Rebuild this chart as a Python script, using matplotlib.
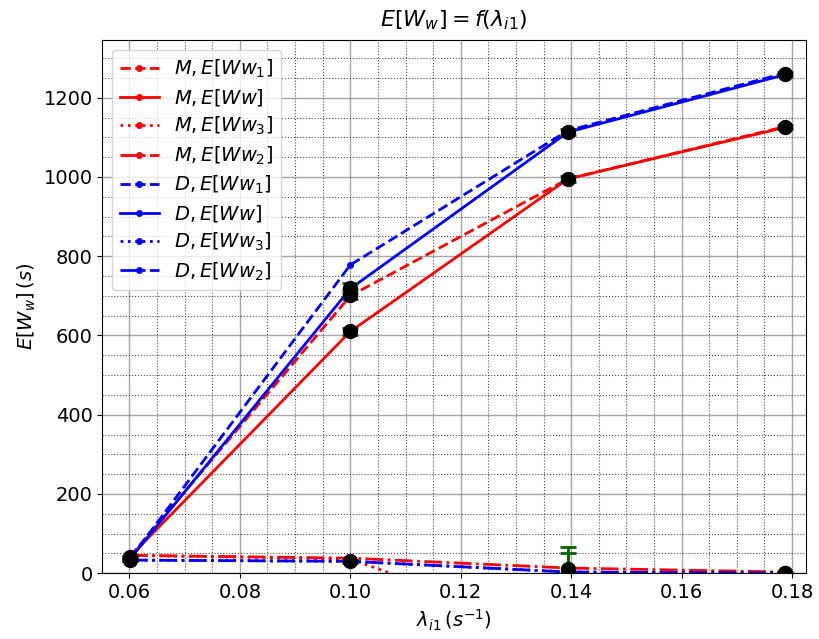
import numpy as np
import matplotlib.pyplot as plt
from matplotlib.ticker import AutoMinorLocator

# --- arrival rates and mean waiting times ---
lam = [0.0601, 0.1, 0.1394, 0.1787]

m_ww1 = [42, 700, 995, 1127]
m_ww = [42, 610, 995, 1125]
m_ww3 = [45, 36, -160, -300]
m_ww2 = [45, 38, 13, 3]

d_ww1 = [36, 778, 1117, 1262]
d_ww = [36, 718, 1113, 1258]
d_ww3 = [33, 30, 3, 0]
d_ww2 = [33, 30, 3, 0]

# simulated points with confidence intervals
sim_m = [40, 703, 995, 1126]
sim_m_err = [4, 12, 8, 6]
sim_m_w = [38, 610, 10, 0]
sim_m_w_err = [4, 8, 55, 2]
sim_d = [36, 720, 1114, 1260]
sim_d_err = [4, 12, 8, 6]
sim_d_w = [34, 30, 3, 0]
sim_d_w_err = [3, 4, 47, 1]

fig, ax = plt.subplots(figsize=(8.19, 6.39), dpi=100)
fig.subplots_adjust(left=0.125, right=0.984, top=0.937, bottom=0.103)

ax.plot(lam, m_ww1, 'o--', color='red', lw=2, ms=4, label=r'$M, E[Ww_1]$')
ax.plot(lam, m_ww, 'o-', color='red', lw=2, ms=4, label=r'$M, E[Ww]$')
ax.plot(lam, m_ww3, 'o:', color='red', lw=2, ms=4, label=r'$M, E[Ww_3]$')
ax.plot(lam, m_ww2, 'o-.', color='red', lw=2, ms=4, label=r'$M, E[Ww_2]$')
ax.plot(lam, d_ww1, 'o--', color='blue', lw=2, ms=4, label=r'$D, E[Ww_1]$')
ax.plot(lam, d_ww, 'o-', color='blue', lw=2, ms=4, label=r'$D, E[Ww]$')
ax.plot(lam, d_ww3, 'o:', color='blue', lw=2, ms=4, label=r'$D, E[Ww_3]$')
ax.plot(lam, d_ww2, 'o-.', color='blue', lw=2, ms=4, label=r'$D, E[Ww_2]$')

for y, e in [(sim_m, sim_m_err), (sim_m_w, sim_m_w_err),
             (sim_d, sim_d_err), (sim_d_w, sim_d_w_err)]:
    ax.errorbar(lam, y, yerr=e, fmt='o', color='black', ms=10,
                ecolor='darkgreen', elinewidth=2, capsize=6, capthick=2)

ax.set_xlim(0.0551, 0.1825)
ax.set_ylim(0, 1345)
ax.xaxis.set_minor_locator(AutoMinorLocator(4))
ax.yaxis.set_minor_locator(AutoMinorLocator(4))
ax.grid(which='major', color='gray', linestyle='-', linewidth=1, alpha=0.7)
ax.grid(which='minor', color='black', linestyle=':', linewidth=0.8, alpha=0.7)
ax.tick_params(which='minor', length=0)
ax.tick_params(which='major', labelsize=14)

ax.set_title(r'$E[W_w] = f(\lambda_{i1})$', fontsize=16, pad=10)
ax.set_xlabel(r'$\lambda_{i1}\,(s^{-1})$', fontsize=14)
ax.set_ylabel(r'$E[W_w]\,(s)$', fontsize=14)
ax.legend(loc='upper left', fontsize=14, labelspacing=0.36)

plt.savefig('out.png', dpi=100)
